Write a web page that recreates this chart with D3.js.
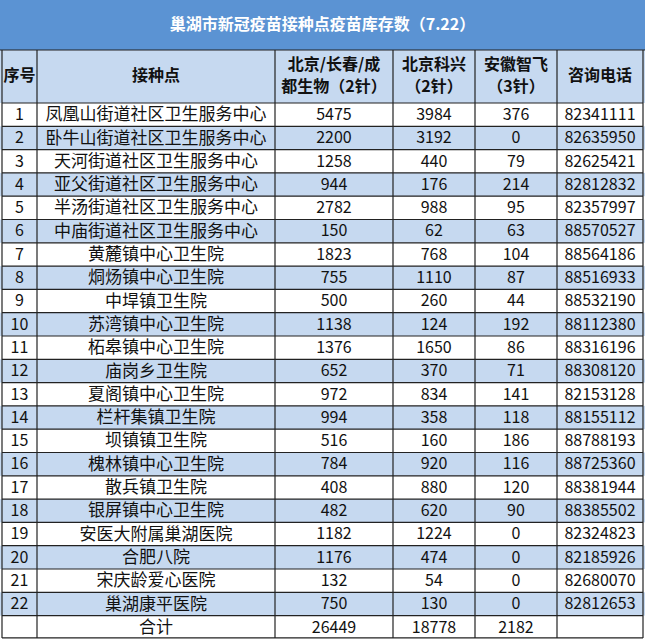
<!DOCTYPE html>
<html><head><meta charset="utf-8">
<script src="https://cdn.jsdelivr.net/npm/d3@7"></script>
<style>body{margin:0;background:#fff;}</style>
</head><body><div id="chart"></div>
<script>
var title = "巢湖市新冠疫苗接种点疫苗库存数（7.22）";
var headers = [["序号"], ["接种点"], ["北京/长春/成", "都生物（2针）"], ["北京科兴", "（2针）"], ["安徽智飞", "（3针）"], ["咨询电话"]];
var sites = ["凤凰山街道社区卫生服务中心","卧牛山街道社区卫生服务中心","天河街道社区卫生服务中心","亚父街道社区卫生服务中心","半汤街道社区卫生服务中心","中庙街道社区卫生服务中心","黄麓镇中心卫生院","烔炀镇中心卫生院","中垾镇卫生院","苏湾镇中心卫生院","柘皋镇中心卫生院","庙岗乡卫生院","夏阁镇中心卫生院","栏杆集镇卫生院","坝镇镇卫生院","槐林镇中心卫生院","散兵镇卫生院","银屏镇中心卫生院","安医大附属巢湖医院","合肥八院","宋庆龄爱心医院","巢湖康平医院"];
var bio = [5475,2200,1258,944,2782,150,1823,755,500,1138,1376,652,972,994,516,784,408,482,1182,1176,132,750];
var kexing = [3984,3192,440,176,988,62,768,1110,260,124,1650,370,834,358,160,920,880,620,1224,474,54,130];
var zhifei = [376,0,79,214,95,63,104,87,44,192,86,71,141,118,186,116,120,90,0,0,0,0];
var phones = ["82341111","82635950","82625421","82812832","82357997","88570527","88564186","88516933","88532190","88112380","88316196","88308120","82153128","88155112","88788193","88725360","88381944","88385502","82324823","82185926","82680070","82812653"];
var totals = ["合计", 26449, 18778, 2182];

var W = 645, H = 641;
var colEdges = [2, 37, 275, 393, 475, 557, 643];
var titleH = 50, headTop = 50, headBot = 103, rowH = 23.3;
var svg = d3.select("#chart").append("svg").attr("width", W).attr("height", H)
    .style("font-family", "'Noto Sans CJK SC', sans-serif");

var rows = sites.map(function(s, i){ return [String(i+1), s, bio[i], kexing[i], zhifei[i], phones[i]]; });
rows.push(["", totals[0], totals[1], totals[2], totals[3], ""]);

var y = d3.scaleLinear().domain([0, rows.length]).range([headBot, headBot + rowH * rows.length]);

// title bar
svg.append("rect").attr("x", 0).attr("y", 0).attr("width", W).attr("height", titleH).attr("fill", "#5b93d3");
svg.append("text").attr("x", W/2).attr("y", titleH/2 + 1).attr("text-anchor", "middle")
    .attr("dominant-baseline", "middle").attr("fill", "#fff").attr("font-weight", "bold")
    .attr("font-size", 16).text(title);

// header
svg.append("rect").attr("x", 0).attr("y", headTop).attr("width", W).attr("height", headBot - headTop).attr("fill", "#c6d9f0");
headers.forEach(function(h, j){
    var cx = (colEdges[j] + colEdges[j+1]) / 2;
    h.forEach(function(line, k){
        svg.append("text").attr("x", cx)
            .attr("y", (headTop + headBot)/2 + (k - (h.length-1)/2) * 22)
            .attr("text-anchor", "middle").attr("dominant-baseline", "middle")
            .attr("font-weight", "bold").attr("font-size", 16).attr("fill", "#111").text(line);
    });
});

// body rows
rows.forEach(function(r, i){
    if (i % 2 === 1 && i < sites.length)
        svg.append("rect").attr("x", 0).attr("y", y(i)).attr("width", W).attr("height", rowH).attr("fill", "#c6d9f0");
    r.forEach(function(v, j){
        svg.append("text").attr("x", (colEdges[j] + colEdges[j+1]) / 2).attr("y", y(i) + rowH/2 + 1)
            .attr("text-anchor", "middle").attr("dominant-baseline", "middle")
            .attr("font-size", j === 1 ? 17 : 16).attr("fill", "#111").text(v);
    });
});

// grid lines
var bottom = y(rows.length) - 1;
colEdges.forEach(function(x){
    svg.append("line").attr("x1", x).attr("x2", x).attr("y1", headTop).attr("y2", bottom)
        .attr("stroke", "#222").attr("stroke-width", 1.2);
});
d3.range(rows.length + 1).forEach(function(i){
    svg.append("line").attr("x1", colEdges[0]).attr("x2", colEdges[6]).attr("y1", Math.min(y(i), bottom)).attr("y2", Math.min(y(i), bottom))
        .attr("stroke", "#222").attr("stroke-width", 1.2);
});
svg.append("line").attr("x1", 0).attr("x2", W).attr("y1", headTop).attr("y2", headTop).attr("stroke", "#222").attr("stroke-width", 1.2);
</script></body></html>
